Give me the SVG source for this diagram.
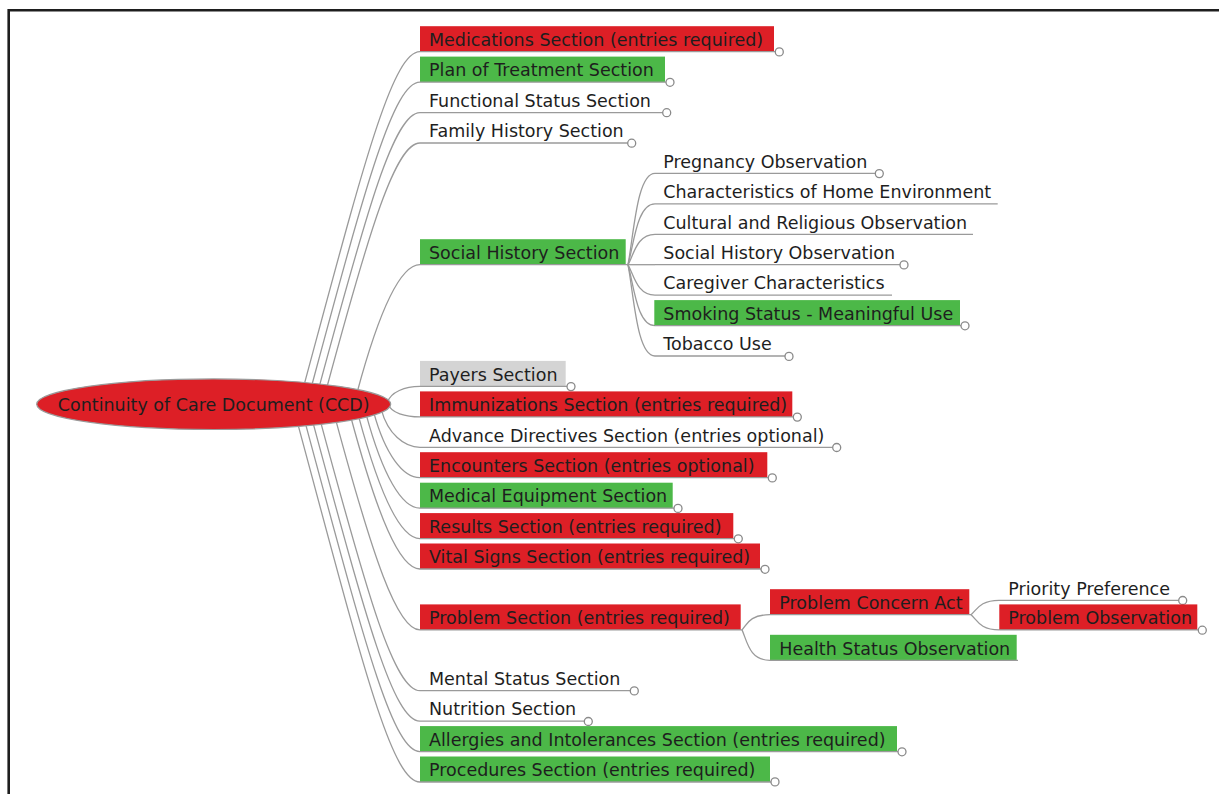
<svg xmlns="http://www.w3.org/2000/svg" width="1219" height="794" viewBox="0 0 1219 794">
  <style>
    .t { font-family: "DejaVu Sans", Verdana, sans-serif; font-size: 17.5px; fill: #1e1e1e; }
    .red { fill: #dd1f26; }
    .green { fill: #4cb848; }
    .grey { fill: #d4d4d4; }
    .ln { fill: none; stroke: #9a9a9a; stroke-width: 1.3; }
    .dot { fill: #ffffff; stroke: #8a8a8a; stroke-width: 1.3; }
  </style>

  <rect width="1219" height="794" fill="#ffffff"/>
  <!-- page frame -->
  <path d="M8.7,800 V10.3 H1230" fill="none" stroke="#1e1e1e" stroke-width="2.6"/>

  <!-- connectors -->
  <g id="connectors" class="ln">
    <!-- root to sections (upper side) -->
    <path d="M303.9,385.7 C362.5,168.7 391.9,51.7 420,51.7"/>
    <path d="M311.5,386.4 C364.9,188.6 393.1,82.1 420,82.1"/>
    <path d="M319.1,387.1 C367.3,208.7 394.3,112.6 420,112.6"/>
    <path d="M326.7,388 C369.7,228.7 395.6,143 420,143"/>
    <path d="M357.1,392.5 C379.5,309.4 400.4,264.7 420,264.7"/>
    <path d="M387.5,402.5 C390.3,392 405.3,386.4 420,386.4"/>
    <!-- root to sections (lower side) -->
    <path d="M388.8,404.9 C390.9,412.7 405.5,416.9 420,416.9"/>
    <path d="M381.2,409.3 C387.9,434 404.3,447.3 420,447.3"/>
    <path d="M373.6,411.9 C385.2,454.7 403.1,477.7 420,477.7"/>
    <path d="M366,413.9 C382.6,475.2 401.8,508.2 420,508.2"/>
    <path d="M358.4,415.6 C380,495.6 400.6,538.6 420,538.6"/>
    <path d="M350.8,417 C377.5,515.8 399.4,569 420,569"/>
    <path d="M335.6,419.3 C372.6,556.2 397,629.9 420,629.9"/>
    <path d="M320.4,421.1 C367.7,596.3 394.5,690.7 420,690.7"/>
    <path d="M312.8,421.9 C365.3,616.4 393.3,721.2 420,721.2"/>
    <path d="M305.2,422.6 C363,636.5 392.1,751.6 420,751.6"/>
    <path d="M297.6,423.2 C360.6,656.4 390.9,782 420,782"/>
    <!-- social history children -->
    <path d="M628,264.7 C634,232.7 637,173.4 655,173.4"/>
    <path d="M628,264.7 C634,243.4 637,203.9 655,203.9"/>
    <path d="M628,264.7 C634,254.1 637,234.3 655,234.3"/>
    <path d="M628,264.7 H655"/>
    <path d="M628,264.7 C634,275.3 637,295.1 655,295.1"/>
    <path d="M628,264.7 C634,286 637,325.6 655,325.6"/>
    <path d="M628,264.7 C634,296.7 637,356 655,356"/>
    <!-- problem section children -->
    <path d="M742,629.9 C747,624.6 749,614.7 770,614.7"/>
    <path d="M742,629.9 C747,640.5 749,660.3 770,660.3"/>
    <!-- problem concern act children -->
    <path d="M971,614.7 C977,609.7 980,600.3 999,600.3"/>
    <path d="M971,614.7 C977,620 980,629.9 999.3,629.9"/>
  </g>

  <!-- root -->
  <g id="root">
    <ellipse cx="213.7" cy="404.2" rx="177" ry="25.3" class="red" stroke="#9a9a9a" stroke-width="1.2"/>
    <text class="t" x="213.7" y="411" text-anchor="middle">Continuity of Care Document (CCD)</text>
  </g>

  <!-- first level sections -->
  <g id="medications">
    <rect class="red" x="420" y="26.2" width="354" height="25.5"/>
    <text class="t" x="429" y="45.9">Medications Section (entries required)</text>
    <path class="ln" d="M420,51.7 H775.3"/>
    <circle class="dot" cx="779.3" cy="51.9" r="4"/>
  </g>
  <g id="plan-of-treatment">
    <rect class="green" x="420" y="56.6" width="245" height="25.5"/>
    <text class="t" x="429" y="76.3">Plan of Treatment Section</text>
    <path class="ln" d="M420,82.1 H666"/>
    <circle class="dot" cx="670" cy="82.3" r="4"/>
  </g>
  <g id="functional-status">
    <text class="t" x="429" y="106.8">Functional Status Section</text>
    <path class="ln" d="M420,112.6 H662.7"/>
    <circle class="dot" cx="666.7" cy="112.7" r="4"/>
  </g>
  <g id="family-history">
    <text class="t" x="429" y="137.2">Family History Section</text>
    <path class="ln" d="M420,143 H627.7"/>
    <circle class="dot" cx="631.7" cy="143.2" r="4"/>
  </g>
  <g id="social-history">
    <rect class="green" x="420" y="239.2" width="205.7" height="25.5"/>
    <text class="t" x="429" y="258.9">Social History Section</text>
    <path class="ln" d="M420,264.7 H628"/>
  </g>
  <g id="payers">
    <rect class="grey" x="420" y="360.9" width="145.7" height="25.5"/>
    <text class="t" x="429" y="380.6">Payers Section</text>
    <path class="ln" d="M420,386.4 H567"/>
    <circle class="dot" cx="571" cy="386.6" r="4"/>
  </g>
  <g id="immunizations">
    <rect class="red" x="420" y="391.4" width="372.3" height="25.5"/>
    <text class="t" x="429" y="411.1">Immunizations Section (entries required)</text>
    <path class="ln" d="M420,416.9 H793.3"/>
    <circle class="dot" cx="797.3" cy="417.1" r="4"/>
  </g>
  <g id="advance-directives">
    <text class="t" x="429" y="441.5">Advance Directives Section (entries optional)</text>
    <path class="ln" d="M420,447.3 H832.7"/>
    <circle class="dot" cx="836.7" cy="447.5" r="4"/>
  </g>
  <g id="encounters">
    <rect class="red" x="420" y="452.2" width="347.3" height="25.5"/>
    <text class="t" x="429" y="471.9">Encounters Section (entries optional)</text>
    <path class="ln" d="M420,477.7 H768.3"/>
    <circle class="dot" cx="772.3" cy="477.9" r="4"/>
  </g>
  <g id="medical-equipment">
    <rect class="green" x="420" y="482.7" width="252.7" height="25.5"/>
    <text class="t" x="429" y="502.4">Medical Equipment Section</text>
    <path class="ln" d="M420,508.2 H674"/>
    <circle class="dot" cx="678" cy="508.4" r="4"/>
  </g>
  <g id="results">
    <rect class="red" x="420" y="513.1" width="313.3" height="25.5"/>
    <text class="t" x="429" y="532.8">Results Section (entries required)</text>
    <path class="ln" d="M420,538.6 H734.3"/>
    <circle class="dot" cx="738.3" cy="538.8" r="4"/>
  </g>
  <g id="vital-signs">
    <rect class="red" x="420" y="543.5" width="340" height="25.5"/>
    <text class="t" x="429" y="563.2">Vital Signs Section (entries required)</text>
    <path class="ln" d="M420,569 H761"/>
    <circle class="dot" cx="765" cy="569.3" r="4"/>
  </g>
  <g id="problem">
    <rect class="red" x="420" y="604.4" width="320.7" height="25.5"/>
    <text class="t" x="429" y="624.1">Problem Section (entries required)</text>
    <path class="ln" d="M420,629.9 H742"/>
  </g>
  <g id="mental-status">
    <text class="t" x="429" y="684.9">Mental Status Section</text>
    <path class="ln" d="M420,690.7 H630.3"/>
    <circle class="dot" cx="634.3" cy="690.9" r="4"/>
  </g>
  <g id="nutrition">
    <text class="t" x="429" y="715.4">Nutrition Section</text>
    <path class="ln" d="M420,721.2 H584.3"/>
    <circle class="dot" cx="588.3" cy="721.5" r="4"/>
  </g>
  <g id="allergies">
    <rect class="green" x="420" y="726.1" width="477" height="25.5"/>
    <text class="t" x="429" y="745.8">Allergies and Intolerances Section (entries required)</text>
    <path class="ln" d="M420,751.6 H898"/>
    <circle class="dot" cx="902" cy="751.8" r="4"/>
  </g>
  <g id="procedures">
    <rect class="green" x="420" y="756.5" width="350" height="25.5"/>
    <text class="t" x="429" y="776.2">Procedures Section (entries required)</text>
    <path class="ln" d="M420,782 H771"/>
    <circle class="dot" cx="775" cy="781.9" r="4"/>
  </g>

  <!-- social history entries -->
  <g id="pregnancy">
    <text class="t" x="663.3" y="167.6">Pregnancy Observation</text>
    <path class="ln" d="M655,173.4 H875.3"/>
    <circle class="dot" cx="879.3" cy="173.6" r="4"/>
  </g>
  <g id="home-environment">
    <text class="t" x="663.3" y="198.1">Characteristics of Home Environment</text>
    <path class="ln" d="M655,203.9 H997.7"/>
  </g>
  <g id="cultural-religious">
    <text class="t" x="663.3" y="228.5">Cultural and Religious Observation</text>
    <path class="ln" d="M655,234.3 H973"/>
  </g>
  <g id="social-history-observation">
    <text class="t" x="663.3" y="258.9">Social History Observation</text>
    <path class="ln" d="M655,264.7 H900"/>
    <circle class="dot" cx="904" cy="264.9" r="4"/>
  </g>
  <g id="caregiver">
    <text class="t" x="663.3" y="289.3">Caregiver Characteristics</text>
    <path class="ln" d="M655,295.1 H892"/>
  </g>
  <g id="smoking-status">
    <rect class="green" x="654.3" y="300.1" width="305.7" height="25.5"/>
    <text class="t" x="663.3" y="319.8">Smoking Status - Meaningful Use</text>
    <path class="ln" d="M655,325.6 H961"/>
    <circle class="dot" cx="965" cy="325.8" r="4"/>
  </g>
  <g id="tobacco-use">
    <text class="t" x="663.3" y="350.2">Tobacco Use</text>
    <path class="ln" d="M655,356 H785"/>
    <circle class="dot" cx="789" cy="356.4" r="4"/>
  </g>

  <!-- problem section entries -->
  <g id="problem-concern-act">
    <rect class="red" x="770" y="589.2" width="199.3" height="25.5"/>
    <text class="t" x="779.3" y="608.9">Problem Concern Act</text>
    <path class="ln" d="M770,614.7 H971"/>
  </g>
  <g id="health-status">
    <rect class="green" x="770" y="634.8" width="246.7" height="25.5"/>
    <text class="t" x="779.3" y="654.5">Health Status Observation</text>
    <path class="ln" d="M770,660.3 H1018"/>
  </g>
  <g id="priority-preference">
    <text class="t" x="1008.3" y="594.5">Priority Preference</text>
    <path class="ln" d="M999,600.3 H1178.7"/>
    <circle class="dot" cx="1182.7" cy="600.5" r="4"/>
  </g>
  <g id="problem-observation">
    <rect class="red" x="999.3" y="604.4" width="198" height="25.5"/>
    <text class="t" x="1008.3" y="624.1">Problem Observation</text>
    <path class="ln" d="M999.3,629.9 H1198.3"/>
    <circle class="dot" cx="1202.3" cy="630.2" r="4"/>
  </g>
</svg>
